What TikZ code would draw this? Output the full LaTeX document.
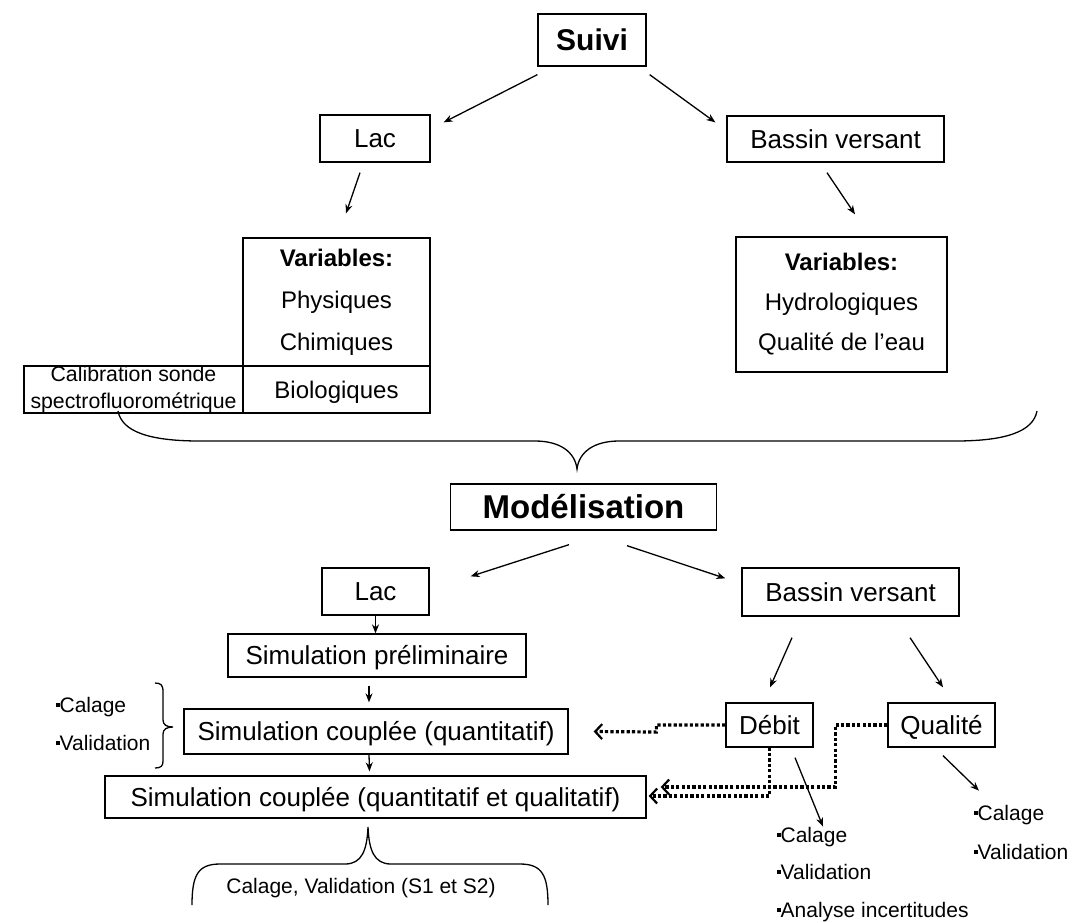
\documentclass[tikz,border=0pt]{standalone}
\usepackage{graphicx}
\usepackage{fontspec}
\setmainfont{Liberation Sans}
\usetikzlibrary{calc,arrows.meta}

\newcommand{\sz}[2]{\fontsize{#1}{#2}\selectfont}
\newcommand{\bul}{\rule[0.26em]{0.19em}{0.19em}}

\begin{document}
\begin{tikzpicture}[x=1pt, y=-1pt, line width=1.3pt,
                    bloc/.style={draw, rectangle, inner sep=0pt, minimum height=46pt,
                                 text height=18.7pt, text depth=0pt, font=\sz{26}{30}},
                    tableau/.style={draw, rectangle, inner sep=0pt, align=center},
                    liste/.style={align=left, inner sep=0pt, anchor=west},
                    arr/.style={-{Stealth[length=9pt,width=7pt]}},
                    dotarr/.style={-{Straight Barb[length=7pt,width=15pt,line width=2.2pt]},
                                   line width=3.2pt, dash pattern=on 3.2pt off 2.2pt}]
    \useasboundingbox (0,0) rectangle (1075,922);

    % suivi
    \node[bloc, minimum width=108pt, minimum height=52pt, text height=21.6pt, font=\bfseries\sz{30}{34}] (suivi) at (592,40) {Suivi};
    \node[bloc, minimum width=110pt, minimum height=47pt] (lacA) at (375,138.5) {Lac};
    \node[bloc, minimum width=217pt] (bvA) at (835.5,139) {Bassin versant};
    \node[tableau, minimum width=187pt, minimum height=128pt, font=\sz{24}{42}] (varlac) at (336.5,302) {\textbf{Variables:}\\Physiques\\Chimiques};
    \node[bloc, minimum width=187pt, minimum height=47pt, text height=17.3pt, font=\sz{24}{28}] (bio) at (336.5,389.5) {Biologiques};
    \node[tableau, minimum width=219pt, minimum height=47pt, font=\sz{21.3}{27}] (calib) at (133.5,389.5) {Calibration sonde\\spectrofluorométrique};
    \node[tableau, minimum width=211pt, minimum height=135pt, font=\sz{24}{40}] (varbv) at (841.5,304.5) {\textbf{Variables:}\\Hydrologiques\\Qualité de l'eau};

    \draw[arr] ($(suivi.south west)+(0,8)$) -- ($(lacA.north east)+(13,8)$);
    \draw[arr] ($(suivi.south east)+(3,8)$) -- ($(bvA.north west)+(-11,7)$);
    \draw[arr] ($(lacA.south)+(-15,10)$) -- ($(varlac.north)+(9.5,-24)$);
    \draw[arr] ($(bvA.south)+(-8.5,10)$) -- ($(varbv.north)+(13.5,-22)$);

    % grande accolade
    \draw (118,411) .. controls (122,432) and (150,441) .. (200,441) -- (535,441)
          .. controls (560,441) and (575,452) .. (577,469)
          .. controls (579,452) and (594,441) .. (619,441) -- (955,441)
          .. controls (1005,441) and (1033,432) .. (1037,411);

    % modelisation
    \node[bloc, minimum width=266pt, text height=23.8pt, font=\bfseries\sz{33}{38}] (modl) at (583.5,507) {Modélisation};
    \node[bloc, minimum width=107pt, minimum height=47pt] (lacB) at (375.5,591.5) {Lac};
    \node[bloc, minimum width=217pt, minimum height=48pt] (bvB) at (850.5,592) {Bassin versant};
    \node[bloc, minimum width=298pt, minimum height=43pt] (simpre) at (377,655.5) {Simulation préliminaire};
    \node[bloc, minimum width=384pt, minimum height=45pt] (simq) at (376,731.5) {Simulation couplée (quantitatif)};
    \node[bloc, minimum width=541pt, minimum height=42pt] (simqq) at (375.5,797) {Simulation couplée (quantitatif et qualitatif)};
    \node[bloc, minimum width=87pt, minimum height=44pt] (debit) at (769.5,725) {Débit};
    \node[bloc, minimum width=107pt, minimum height=44pt] (qual) at (941.5,725) {Qualité};

    \node[liste, font=\sz{21}{38}] (calA) at (55,724) {\bul Calage\\\bul Validation};
    \node[liste, font=\sz{21}{37.5}] (listdeb) at (776,874.5) {\bul Calage\\\bul Validation\\\bul Analyse incertitudes};
    \node[liste, font=\sz{21}{39}] (listqual) at (973,832.5) {\bul Calage\\\bul Validation};
    \node[inner sep=0pt, font=\sz{21}{25}] (calB) at (361,888) {Calage, Validation (S1 et S2)};

    % accolades du bas
    \draw (155,683) .. controls (161,683) and (163,685) .. (163,692) -- (163,720)
          .. controls (163,725) and (167,727) .. (173,727)
          .. controls (167,727) and (163,729) .. (163,734) -- (163,761)
          .. controls (163,766) and (161,768) .. (155,768);
    \draw (192,905) .. controls (192,875) and (198,864) .. (220,864) -- (345,864)
          .. controls (362,864) and (367,850) .. (368,827)
          .. controls (369,850) and (374,864) .. (391,864) -- (520,864)
          .. controls (542,864) and (548,875) .. (548,905);

    \draw[arr] ($(modl.south)+(-14.5,14)$) -- ($(lacB.north east)+(41,9)$);
    \draw[arr] ($(modl.south)+(43.5,15)$) -- ($(bvB.north west)+(-16,11)$);
    \draw[arr] (lacB.south) -- (lacB.south |- simpre.north);
    \draw[arr] ($(simpre.south)+(-8,8)$) -- ($(simq.north)+(-7,-6)$);
    \draw[arr] ($(simq.south)+(-7,0)$) -- ($(simqq.north)+(-6,-4)$);
    \draw[arr] ($(bvB.south)+(-58.5,21)$) -- ($(debit.north)+(0.5,-15)$);
    \draw[arr] ($(bvB.south)+(59.5,21)$) -- ($(qual.north)+(1.5,-15)$);
    \draw[arr] ($(debit.south)+(25.5,10)$) -- ($(listdeb.north west)+(47,0)$);
    \draw[arr] ($(qual.south)+(1.5,8)$) -- ($(listqual.north west)+(6,-14)$);

    \draw[dotarr] (debit.west) -- ++(-69,0) -- ++(0,7) -- ($(simq.east)+(25,0)$);
    \draw[dotarr] (debit.south) |- ($(simqq.east)+(2,-1)$);
    \draw[dotarr] (qual.west) -- ++(-52,0) |- ($(simqq.east)+(14,-10)$);
\end{tikzpicture}
\end{document}
